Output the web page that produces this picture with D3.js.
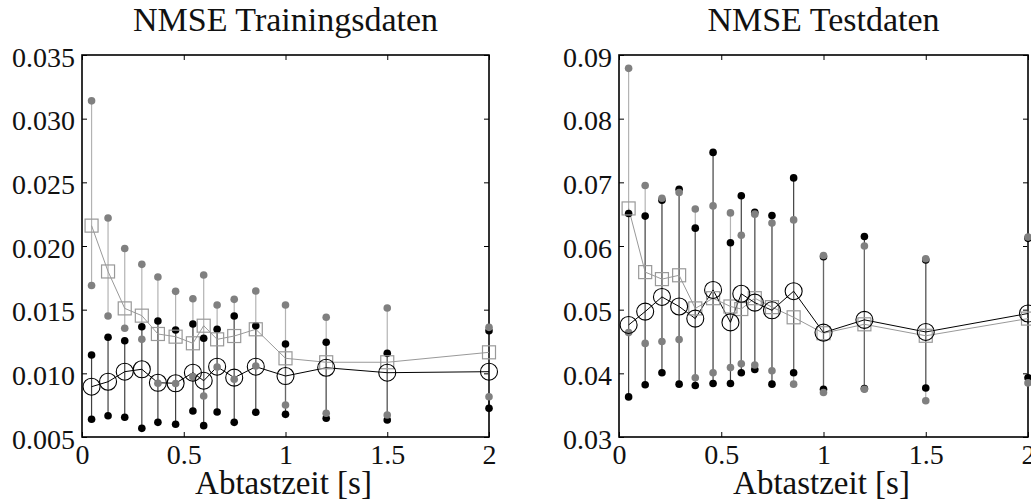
<!DOCTYPE html>
<html>
<head>
<meta charset="utf-8">
<script src="https://cdn.jsdelivr.net/npm/d3@7"></script>
<style>
  body { margin: 0; background: #fff; }
  text { font-family: "Liberation Serif", "DejaVu Serif", serif; fill: #111; }
</style>
</head>
<body>
<svg id="chart" width="1031" height="501"></svg>
<script>
// sampling times (s)
var xVals = [0.047, 0.128, 0.21, 0.294, 0.373, 0.46, 0.545, 0.598, 0.664, 0.748, 0.854, 1.0, 1.2, 1.5, 2.0];
var xTicks = [0, 0.5, 1, 1.5, 2];

// training data (black = circles, gray = squares)
var trainBlackLow  = [0.00639, 0.00667, 0.00655, 0.00568, 0.00615, 0.00600, 0.00704, 0.00589, 0.00696, 0.00615, 0.00694, 0.00678, 0.00647, 0.00634, 0.00725];
var trainBlackHigh = [0.01144, 0.01283, 0.01256, 0.01366, 0.01411, 0.01340, 0.01387, 0.01275, 0.01346, 0.01450, 0.01374, 0.01230, 0.01244, 0.01157, 0.01335];
var trainCircle    = [0.00895, 0.00934, 0.01013, 0.01032, 0.00926, 0.00922, 0.01005, 0.00942, 0.01052, 0.00966, 0.01052, 0.00979, 0.01044, 0.01005, 0.01013];
var trainGrayLow   = [0.0169, 0.0145, 0.01354, 0.01267, 0.00922, 0.0092, 0.00974, 0.00822, 0.0105, 0.00953, 0.01058, 0.00751, 0.00686, 0.00673, 0.00816];
var trainGrayHigh  = [0.0314, 0.0222, 0.0198, 0.01856, 0.01757, 0.01644, 0.01586, 0.01772, 0.01537, 0.01581, 0.01647, 0.01537, 0.0144, 0.01513, 0.01361];
var trainSquare    = [0.0216, 0.0180, 0.0151, 0.01453, 0.01309, 0.01288, 0.01236, 0.01374, 0.01267, 0.01293, 0.01346, 0.01118, 0.01087, 0.01087, 0.01165];
var trainYTicks = [0.005, 0.010, 0.015, 0.020, 0.025, 0.030, 0.035];

// test data
var testBlackLow  = [0.0363, 0.0382, 0.0401, 0.0383, 0.0381, 0.0384, 0.0384, 0.0401, 0.0406, 0.0383, 0.0401, 0.0375, 0.0376, 0.0377, 0.0393];
var testBlackHigh = [0.0651, 0.0647, 0.0672, 0.0689, 0.0628, 0.0747, 0.0605, 0.0679, 0.0653, 0.0648, 0.0707, 0.0583, 0.0615, 0.0578, 0.0612];
var testCircle    = [0.0476, 0.0497, 0.0520, 0.0505, 0.0486, 0.0531, 0.0480, 0.0525, 0.0511, 0.0499, 0.0529, 0.0464, 0.0484, 0.0465, 0.0494];
var testGrayLow   = [0.0464, 0.0447, 0.0450, 0.0453, 0.0393, 0.0401, 0.0409, 0.0415, 0.0413, 0.0404, 0.0383, 0.0370, 0.0375, 0.0357, 0.0385];
var testGrayHigh  = [0.0879, 0.0695, 0.0675, 0.0684, 0.0658, 0.0663, 0.0652, 0.0617, 0.0650, 0.0636, 0.0641, 0.0585, 0.0600, 0.0580, 0.0614];
var testSquare    = [0.0659, 0.0559, 0.0548, 0.0554, 0.0502, 0.0518, 0.0505, 0.0501, 0.0518, 0.0504, 0.0488, 0.0463, 0.0477, 0.0459, 0.0486];
var testYTicks = [0.03, 0.04, 0.05, 0.06, 0.07, 0.08, 0.09];

var svg = d3.select("#chart");

function drawPanel(p) {
  var x = d3.scaleLinear().domain([0, 2]).range([p.left, p.right]);
  var y = d3.scaleLinear().domain(d3.extent(p.yTicks)).range([p.bottom, p.top]);
  var g = svg.append("g");

  // title + x label
  g.append("text")
    .attr("x", (p.left + p.right) / 2).attr("y", 31)
    .attr("text-anchor", "middle").style("font-size", "34px")
    .text(p.title);
  g.append("text")
    .attr("x", (p.left + p.right) / 2 - 2).attr("y", 494)
    .attr("text-anchor", "middle").style("font-size", "33px")
    .text("Abtastzeit [s]");

  // axes, ticks pointing inward on all four sides
  g.append("g").attr("transform", "translate(0," + p.bottom + ")")
    .call(d3.axisBottom(x).tickValues(xTicks).tickSize(-5).tickSizeOuter(0).tickPadding(7)
      .tickFormat(d3.format("")));
  var ay = g.append("g").attr("transform", "translate(" + p.left + ",0)")
    .call(d3.axisLeft(y).tickValues(p.yTicks).tickSize(-5).tickSizeOuter(0).tickPadding(7)
      .tickFormat(d3.format(p.fmt)));
  g.append("g").attr("transform", "translate(0," + p.top + ")")
    .call(d3.axisTop(x).tickValues(xTicks).tickSize(-5).tickSizeOuter(0).tickFormat(""));
  g.append("g").attr("transform", "translate(" + p.right + ",0)")
    .call(d3.axisRight(y).tickValues(p.yTicks).tickSize(-5).tickSizeOuter(0).tickFormat(""));
  g.selectAll(".domain").remove();
  g.selectAll(".tick line").attr("stroke", "#000");
  g.selectAll(".tick text").style("font-size", "28px").attr("fill", "#111")
    .style("font-family", '"Liberation Serif", serif');
  ay.selectAll(".tick text").attr("dy", "0.4em");

  g.append("rect")
    .attr("x", p.left).attr("y", p.top)
    .attr("width", p.right - p.left).attr("height", p.bottom - p.top)
    .attr("fill", "none").attr("stroke", "#000").attr("stroke-width", 1.6);

  var idx = d3.range(xVals.length);

  // whiskers
  g.selectAll(".wb").data(idx).join("line")
    .attr("x1", i => x(xVals[i])).attr("x2", i => x(xVals[i]))
    .attr("y1", i => y(p.bLow[i])).attr("y2", i => y(p.bHigh[i]))
    .attr("stroke", "#000").attr("stroke-opacity", 0.75).attr("stroke-width", 1.2);
  g.selectAll(".wg").data(idx).join("line")
    .attr("x1", i => x(xVals[i])).attr("x2", i => x(xVals[i]))
    .attr("y1", i => y(p.gLow[i])).attr("y2", i => y(p.gHigh[i]))
    .attr("stroke", "#808080").attr("stroke-opacity", 0.6).attr("stroke-width", 1.2);

  // mean lines
  var line = d3.line().x(d => x(d[0])).y(d => y(d[1]));
  g.append("path").attr("d", line(idx.map(i => [xVals[i], p.square[i]])))
    .attr("fill", "none").attr("stroke", "#999").attr("stroke-width", 1);
  g.append("path").attr("d", line(idx.map(i => [xVals[i], p.circle[i]])))
    .attr("fill", "none").attr("stroke", "#000").attr("stroke-width", 1);

  // min / max dots
  [[p.bLow, "#000"], [p.bHigh, "#000"], [p.gLow, "#808080"], [p.gHigh, "#808080"]].forEach(function (s) {
    g.append("g").selectAll("circle").data(idx).join("circle")
      .attr("cx", i => x(xVals[i])).attr("cy", i => y(s[0][i]))
      .attr("r", 3.8).attr("fill", s[1]);
  });

  // markers
  g.append("g").selectAll("rect").data(idx).join("rect")
    .attr("x", i => x(xVals[i]) - 6.5).attr("y", i => y(p.square[i]) - 6.5)
    .attr("width", 13).attr("height", 13)
    .attr("fill", "none").attr("stroke", "#999").attr("stroke-width", 1.2);
  g.append("g").selectAll("circle").data(idx).join("circle")
    .attr("cx", i => x(xVals[i])).attr("cy", i => y(p.circle[i]))
    .attr("r", 8.5).attr("fill", "none").attr("stroke", "#000").attr("stroke-width", 1.1);
}

drawPanel({
  title: "NMSE Trainingsdaten", left: 82, right: 489, top: 55, bottom: 437,
  yTicks: trainYTicks, fmt: ".3f",
  bLow: trainBlackLow, bHigh: trainBlackHigh, circle: trainCircle,
  gLow: trainGrayLow, gHigh: trainGrayHigh, square: trainSquare
});
drawPanel({
  title: "NMSE Testdaten", left: 619, right: 1028, top: 55, bottom: 437,
  yTicks: testYTicks, fmt: ".2f",
  bLow: testBlackLow, bHigh: testBlackHigh, circle: testCircle,
  gLow: testGrayLow, gHigh: testGrayHigh, square: testSquare
});
</script>
</body>
</html>
